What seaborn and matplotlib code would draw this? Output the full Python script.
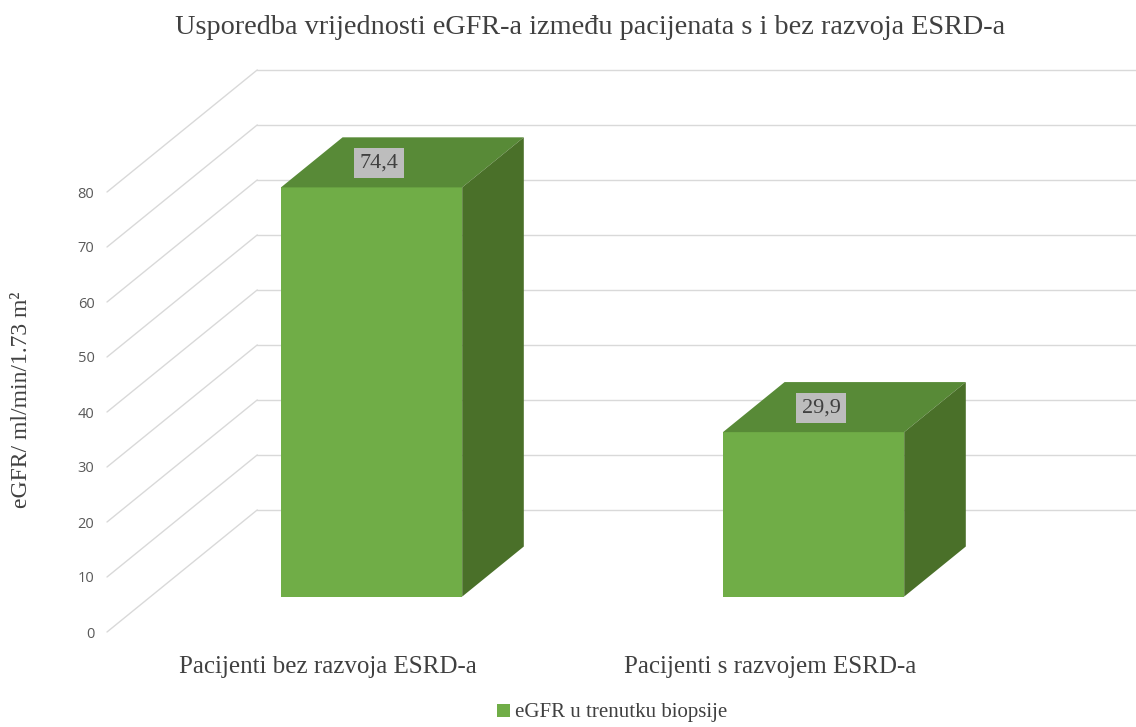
import numpy as np
import pandas as pd
import matplotlib
matplotlib.use("Agg")
import matplotlib.pyplot as plt
import matplotlib.transforms as mtransforms
from matplotlib.patches import Polygon
import seaborn as sns

# ---------------- data ----------------
categories = ["Pacijenti bez razvoja ESRD-a", "Pacijenti s razvojem ESRD-a"]
egfr_values = [74.4, 29.9]
value_labels = ["74,4", "29,9"]
series_name = "eGFR u trenutku biopsije"
y_ticks = [0, 10, 20, 30, 40, 50, 60, 70, 80]
title_text = "Usporedba vrijednosti eGFR-a između pacijenata s i bez razvoja ESRD-a"
y_label_text = "eGFR/ ml/min/1.73 m²"

# ---------------- style ----------------
FRONT = "#70AD47"
TOP = "#588A37"
SIDE = "#4A7029"
GRID = "#D9D9D9"
TEXT_DARK = "#404040"
TEXT_GRAY = "#595959"
SERIF = ["Liberation Serif", "DejaVu Serif"]
SANS = ["Open Sans", "DejaVu Sans"]

W_PX, H_PX, DPI = 1136, 727, 100
PX_PER_UNIT = 5.5          # vertical pixels per eGFR unit
DEPTH_DX = 0.34            # full depth shift in category units
DEPTH_DY = 22.2            # full depth shift in value units
F_FRONT, F_BACK = 0.29, 0.70
BAR_W = 0.41

sns.set_theme(style="white")
plt.rcParams["font.family"] = SANS

fig = plt.figure(figsize=(W_PX / DPI, H_PX / DPI), dpi=DPI)
ax_left_px, ax_right_px, ax_bottom_px = 107, 991, 632
y_top = max(y_ticks) + DEPTH_DY
ax_h_px = y_top * PX_PER_UNIT
ax = fig.add_axes([ax_left_px / W_PX, (H_PX - ax_bottom_px) / H_PX,
                   (ax_right_px - ax_left_px) / W_PX, ax_h_px / H_PX])
ax.set_facecolor("none")

df = pd.DataFrame({"kategorija": categories, "eGFR": egfr_values,
                   "serija": [series_name] * len(categories)})
sns.barplot(data=df, x="kategorija", y="eGFR", hue="serija", palette=[FRONT],
            width=BAR_W, saturation=1, edgecolor="none", linewidth=0,
            ax=ax, legend=True, zorder=3)

ax.set_xlim(-0.5, len(categories) - 0.5)
ax.set_ylim(0, y_top)

# back wall and side wall gridlines
x0, x1 = ax.get_xlim()
for v in y_ticks:
    ax.plot([x0 + DEPTH_DX, x1 + DEPTH_DX], [v + DEPTH_DY, v + DEPTH_DY],
            color=GRID, lw=1.0, clip_on=False, zorder=1)
    ax.plot([x0, x0 + DEPTH_DX], [v, v + DEPTH_DY],
            color=GRID, lw=1.0, clip_on=False, zorder=1)

# 3D bars: shift front faces, add top and side faces
ofx, ofy = F_FRONT * DEPTH_DX, F_FRONT * DEPTH_DY
obx, oby = F_BACK * DEPTH_DX, F_BACK * DEPTH_DY
shift = mtransforms.Affine2D().translate(ofx, ofy) + ax.transData
for bar, lab in zip(ax.containers[0], value_labels):
    bx0 = bar.get_x()
    bx1 = bx0 + bar.get_width()
    h = bar.get_height()
    bar.set_transform(shift)
    bar.set_clip_on(False)
    top = Polygon([(bx0 + ofx, h + ofy), (bx1 + ofx, h + ofy),
                   (bx1 + obx, h + oby), (bx0 + obx, h + oby)],
                  closed=True, fc=TOP, ec="none", zorder=3, clip_on=False)
    side = Polygon([(bx1 + ofx, ofy), (bx1 + obx, oby),
                    (bx1 + obx, h + oby), (bx1 + ofx, h + ofy)],
                   closed=True, fc=SIDE, ec="none", zorder=3, clip_on=False)
    ax.add_patch(top)
    ax.add_patch(side)
    cx = (bx0 + bx1) / 2 + ofx + 0.05 * DEPTH_DX
    cy = h + ofy + 0.48 * (oby - ofy)
    ax.text(cx, cy, lab, ha="center", va="center", fontsize=16,
            family=SERIF, color=TEXT_DARK, zorder=5,
            bbox=dict(boxstyle="square,pad=0.25", fc="#BDBDBD", ec="none"))

# axes cosmetics
for s in ax.spines.values():
    s.set_visible(False)
ax.set_yticks(y_ticks)
ax.set_yticklabels([str(t) for t in y_ticks])
ax.tick_params(axis="y", length=0, pad=9, labelsize=10.5, labelcolor=TEXT_GRAY)
ax.tick_params(axis="x", length=0, pad=17, labelsize=18, labelcolor=TEXT_DARK)
for t in ax.get_xticklabels():
    t.set_family(SERIF)
ax.set_xlabel("")
ax.set_ylabel("")
ax.grid(False)

fig.text(590 / W_PX, 1 - 28 / H_PX, title_text, ha="center", va="center",
         fontsize=20.3, family=SERIF, color=TEXT_DARK)
fig.text(22 / W_PX, 1 - 400 / H_PX, y_label_text, ha="center", va="center",
         rotation=90, fontsize=17, family=SERIF, color=TEXT_DARK)

handles, labels = ax.get_legend_handles_labels()
ax.get_legend().remove()
fig.legend(handles, labels, loc="center", bbox_to_anchor=(612 / W_PX, 1 - 713 / H_PX),
           frameon=False, handlelength=0.6, handleheight=0.6, handletextpad=0.25,
           prop={"family": SERIF, "size": 15}, labelcolor=TEXT_DARK)

fig.savefig("out.png", dpi=DPI)
